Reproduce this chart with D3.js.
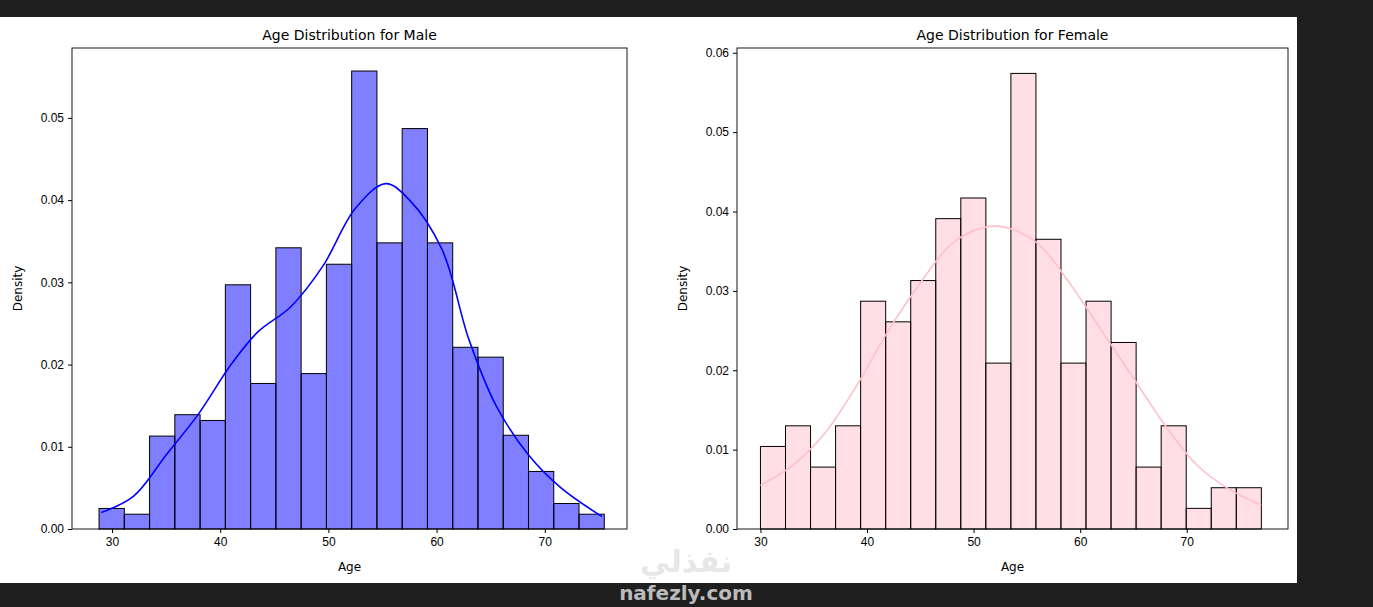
<!DOCTYPE html>
<html><head><meta charset="utf-8">
<script src="https://cdn.jsdelivr.net/npm/d3@7"></script>
<style>
body{margin:0;background:#1f1f1f;font-family:"DejaVu Sans",sans-serif;}
.tick text{font-size:12px;fill:#000;}
</style></head><body>
<svg id="chart" width="1373" height="607"></svg>
<script>
// Male histogram (density), 20 bins from 28.8 to 75.5
const maleBinStart = 28.8, maleBinEnd = 75.5;
const maleDensity = [0.0025,0.0018,0.0113,0.0139,0.0132,0.0297,0.0177,0.0342,0.0189,0.0322,
                     0.0557,0.0348,0.0487,0.0348,0.0221,0.0209,0.0114,0.0070,0.0031,0.0018];
const maleKdeAge = [29,32,35,38,41,43.5,46.5,49.5,52.5,55.3,57.5,60.5,63,65.5,68.5,71.5,75.3];
const maleKde = [0.002,0.004,0.009,0.014,0.020,0.024,0.027,0.032,0.039,0.042,0.040,0.034,0.023,0.015,0.009,0.005,0.0015];

// Female histogram (density), 20 bins from 30 to 77
const femaleBinStart = 30, femaleBinEnd = 77;
const femaleDensity = [0.0104,0.0130,0.0078,0.0130,0.0287,0.0261,0.0313,0.0391,0.0417,0.0209,
                       0.0574,0.0365,0.0209,0.0287,0.0235,0.0078,0.0130,0.0026,0.0052,0.0052];
const femaleKdeAge = [30,33,36,39,42,45,48,51,53,56,59,62,65,68,71,74,77];
const femaleKde = [0.0055,0.008,0.012,0.018,0.025,0.031,0.036,0.038,0.038,0.036,0.031,0.025,0.019,0.013,0.008,0.005,0.003];

const xTicks = [30,40,50,60,70];

const svg = d3.select("#chart");
svg.append("rect").attr("x",0).attr("y",17).attr("width",1297).attr("height",566).attr("fill","#fff");

function panel(o) {
    const top = 48, bottom = 529;
    const x = d3.scaleLinear().domain(o.xDomain).range([o.left, o.right]);
    const y = d3.scaleLinear().domain(o.yDomain).range([bottom, top]);
    const g = svg.append("g");
    const n = o.density.length, w = (o.binEnd - o.binStart) / n;

    g.selectAll("rect.bar").data(o.density).join("rect")
        .attr("x", (d, i) => x(o.binStart + i * w))
        .attr("y", d => y(d))
        .attr("width", x(o.binStart + w) - x(o.binStart))
        .attr("height", d => y(0) - y(d))
        .attr("fill", o.fill).attr("fill-opacity", o.opacity)
        .attr("stroke", "#000").attr("stroke-width", 1);

    const line = d3.line().curve(d3.curveCatmullRom)
        .x((d, i) => x(o.kdeAge[i])).y(d => y(d));
    g.append("path").datum(o.kde).attr("d", line)
        .attr("fill", "none").attr("stroke", o.lineColor).attr("stroke-width", 1.6);

    g.append("rect").attr("x", o.left).attr("y", top).attr("width", o.right - o.left)
        .attr("height", bottom - top).attr("fill", "none").attr("stroke", "#000").attr("stroke-width", 0.9);

    g.append("g").attr("transform", "translate(0," + bottom + ")")
        .call(d3.axisBottom(x).tickValues(xTicks).tickSize(4).tickPadding(4))
        .call(a => a.select(".domain").remove());
    g.append("g").attr("transform", "translate(" + o.left + ",0)")
        .call(d3.axisLeft(y).tickValues(o.yTicks).tickFormat(d3.format(".2f")).tickSize(4).tickPadding(4))
        .call(a => a.select(".domain").remove());

    g.append("text").attr("x", (o.left + o.right) / 2).attr("y", 40).attr("text-anchor", "middle")
        .attr("font-size", 14).text(o.title);
    g.append("text").attr("x", (o.left + o.right) / 2).attr("y", 571).attr("text-anchor", "middle")
        .attr("font-size", 12).text("Age");
    g.append("text").attr("transform", "translate(" + (o.left - 50) + "," + ((top + bottom) / 2) + ") rotate(-90)")
        .attr("text-anchor", "middle").attr("font-size", 12).text("Density");
}

panel({left: 72, right: 627, xDomain: [26.3, 77.6], yDomain: [0, 0.0585],
    yTicks: [0,0.01,0.02,0.03,0.04,0.05], binStart: maleBinStart, binEnd: maleBinEnd,
    density: maleDensity, kdeAge: maleKdeAge, kde: maleKde,
    fill: "#0000ff", opacity: 0.5, lineColor: "#0000ff", title: "Age Distribution for Male"});

panel({left: 737, right: 1288, xDomain: [27.8, 79.5], yDomain: [0, 0.0606],
    yTicks: [0,0.01,0.02,0.03,0.04,0.05,0.06], binStart: femaleBinStart, binEnd: femaleBinEnd,
    density: femaleDensity, kdeAge: femaleKdeAge, kde: femaleKde,
    fill: "#ffc0cb", opacity: 0.5, lineColor: "#ffc0cb", title: "Age Distribution for Female"});

// watermark
svg.append("text").attr("x", 686).attr("y", 600).attr("text-anchor", "middle")
    .attr("font-size", 20).attr("fill", "#bbb").attr("font-weight", "bold").text("nafezly.com");
svg.append("text").attr("x", 686).attr("y", 572).attr("text-anchor", "middle")
    .attr("font-size", 30).attr("fill", "#ddd").attr("fill-opacity", 0.7).attr("font-weight", "bold").text("نفذلي");
</script>
</body></html>
